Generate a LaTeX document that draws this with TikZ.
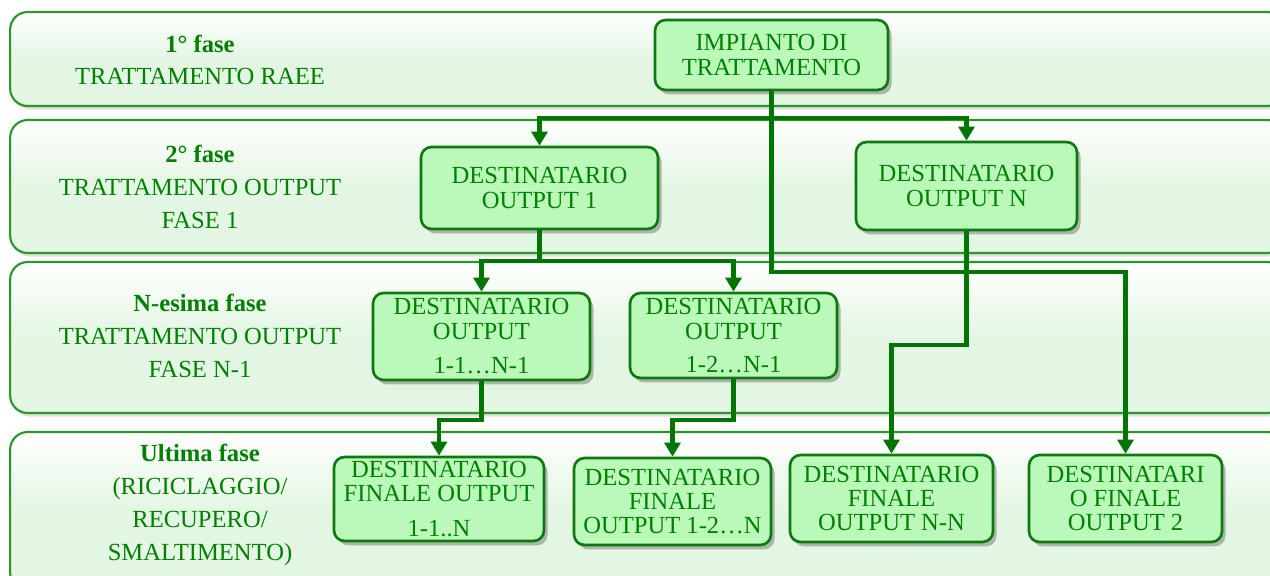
\documentclass[tikz,border=0pt]{standalone}
\usepackage{fontspec}
\setmainfont{Liberation Serif}
\usetikzlibrary{positioning,shadows,arrows.meta}
\definecolor{txtgreen}{RGB}{0,128,0}
\definecolor{blockfill}{RGB}{187,249,187}
\definecolor{blockline}{RGB}{16,120,16}
\definecolor{bandfill}{RGB}{227,246,227}
\definecolor{bandline}{RGB}{40,150,40}
\definecolor{flowgreen}{RGB}{0,118,0}
\tikzstyle{band} = [draw=bandline, line width=1.2pt, rounded corners=10pt, top color=white, bottom color=bandfill, middle color=bandfill, drop shadow={opacity=0.25, shadow xshift=1pt, shadow yshift=-2pt}]
\tikzstyle{phase} = [align=center, text=txtgreen, font=\fontsize{14}{18.7}\selectfont]
\tikzstyle{block} = [draw=blockline, line width=1.5pt, fill=blockfill, rounded corners=6pt, align=center, text=txtgreen, font=\fontsize{14}{13.8}\selectfont, inner sep=1pt, drop shadow={opacity=0.55, shadow xshift=2pt, shadow yshift=-2.5pt}]
\tikzstyle{flow} = [draw=flowgreen, line width=2.3pt, -{Triangle[length=8pt,width=9pt]}]
\begin{document}
\begin{tikzpicture}[x=0.02cm, y=-0.02cm]
        \useasboundingbox (0,0) rectangle (1270,575);

        \node [band, minimum width=25.5cm, minimum height=1.88cm] (band1) at (647.5,59) {};
        \node [band, minimum width=25.5cm, minimum height=2.66cm] (band2) at (647.5,186.5) {};
        \node [band, minimum width=25.5cm, minimum height=3.02cm] (band3) at (647.5,337.5) {};
        \node [band, minimum width=25.5cm, minimum height=3.16cm] (band4) at (647.5,511) {};

        \node [phase] (ph1) at (200,60) {{\bfseries 1° fase}\\TRATTAMENTO RAEE};
        \node [phase] (ph2) at (200,187) {{\bfseries 2° fase}\\TRATTAMENTO OUTPUT\\FASE 1};
        \node [phase] (ph3) at (200,336) {{\bfseries N-esima fase}\\TRATTAMENTO OUTPUT\\FASE N-1};
        \node [phase] (ph4) at (200,505) {{\bfseries Ultima fase}\\(RICICLAGGIO/\\RECUPERO/\\SMALTIMENTO)};

        \node [block, minimum width=4.66cm, minimum height=1.4cm] (imp) at (771.5,55) {IMPIANTO DI\\TRATTAMENTO};
        \node [block, minimum width=4.74cm, minimum height=1.64cm] (out1) at (539.5,188) {DESTINATARIO\\OUTPUT 1};
        \node [block, minimum width=4.42cm, minimum height=1.76cm] (outN) at (966.5,186) {DESTINATARIO\\OUTPUT N};
        \node [block, minimum width=4.34cm, minimum height=1.74cm] (out11) at (481.5,336.5) {DESTINATARIO\\OUTPUT\\[6pt]1-1…N-1};
        \node [block, minimum width=4.14cm, minimum height=1.7cm] (out12) at (733.5,335.5) {DESTINATARIO\\OUTPUT\\[5pt]1-2…N-1};
        \node [block, minimum width=4.2cm, minimum height=1.68cm] (fin11) at (439,499) {DESTINATARIO\\FINALE OUTPUT\\[6pt]1-1..N};
        \node [block, minimum width=3.94cm, minimum height=1.74cm] (fin12) at (672.5,501.5) {DESTINATARIO\\FINALE\\OUTPUT 1-2…N};
        \node [block, minimum width=4.06cm, minimum height=1.74cm] (finNN) at (891.5,498.5) {DESTINATARIO\\FINALE\\OUTPUT N-N};
        \node [block, minimum width=3.86cm, minimum height=1.74cm] (fin2) at (1125.5,498.5) {DESTINATARI\\O FINALE\\OUTPUT 2};

        \coordinate (row1) at (0,118);
        \coordinate (row2) at (0,261);
        \coordinate (row3) at (0,345);
        \coordinate (row4) at (0,420);
        \coordinate (row5) at (0,272);

        \draw [flow] (imp) -- (imp |- row1) -| (out1);
        \draw [flow] (imp |- row1) -| (outN);
        \draw [flow] (imp) -- (imp |- row5) -| (fin2);

        \draw [flow] (out1) -- (out1 |- row2) -| (out11);
        \draw [flow] (out1 |- row2) -| (out12);
        \draw [flow] (outN) -- (outN |- row3) -| (finNN);

        \draw [flow] (out11) -- (out11 |- row4) -| (fin11);
        \draw [flow] (out12) -- (out12 |- row4) -| (fin12);
    \end{tikzpicture}
\end{document}
